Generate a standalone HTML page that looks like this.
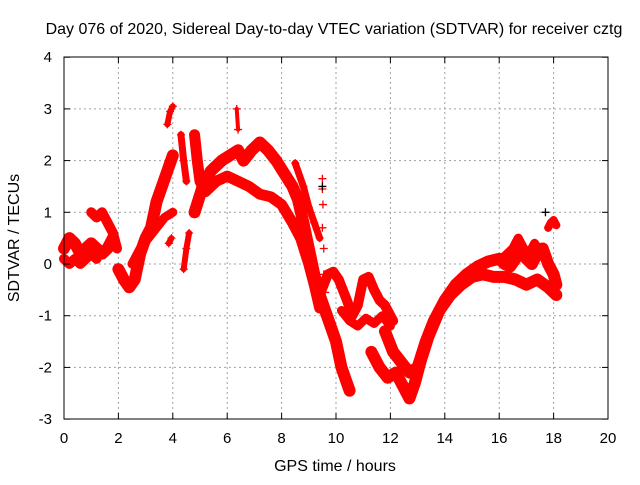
<!DOCTYPE html>
<html><head><meta charset="utf-8"><style>
body{margin:0;background:#fff}
svg text{font-family:"Liberation Sans",sans-serif;font-size:15px;fill:#000}
svg text.big{font-size:16px}
</style></head><body>
<svg id="c" width="640" height="480">
<rect x="0" y="0" width="640" height="480" fill="#fff"/>
<text class="big" x="334" y="34" text-anchor="middle">Day 076 of 2020, Sidereal Day-to-day VTEC variation (SDTVAR) for receiver cztg</text>
<text class="big" x="335" y="471" text-anchor="middle">GPS time / hours</text>
<text class="big" transform="translate(19,238) rotate(-90)" text-anchor="middle">SDTVAR / TECUs</text>
<g id="grid"></g>
<g id="marks"></g>
<rect x="64" y="57" width="544" height="362" fill="none" stroke="#000" stroke-width="1"/>
<g id="axes"></g>
</svg>
<script>
const xTicks=[0,2,4,6,8,10,12,14,16,18,20];
const yTicks=[-3,-2,-1,0,1,2,3,4];
const tA1=[0,0.2,0.4,0.6,0.8,1.0,1.2,1.4,1.6,1.8];
const vA1=[0.3,0.5,0.4,0.2,0.3,0.4,0.3,0.2,0.3,0.5];
const tA2=[0,0.2,0.4,0.6,0.8,1.0,1.2];
const vA2=[0.1,0.0,0.1,0.0,0.1,0.2,0.1];
const tA3=[1.0,1.2,1.4,1.6,1.8,1.95];
const vA3=[1.0,0.9,1.0,0.8,0.6,0.3];
const tB1=[2.0,2.2,2.4,2.6,2.8,3.0,3.2,3.4,3.6,3.8,4.0];
const vB1=[-0.1,-0.3,-0.45,-0.3,0.2,0.5,0.7,1.2,1.5,1.8,2.1];
const tB2=[2.5,2.8,3.1,3.4,3.7,4.0];
const vB2=[0.0,0.3,0.5,0.7,0.9,1.0];
const tC=[3.8,3.9,4.0];
const vC=[2.7,2.95,3.05];
const tD=[3.85,3.95];
const vD=[0.4,0.5];
const tE=[4.3,4.4,4.5];
const vE=[2.5,2.0,1.6];
const tF=[4.4,4.5,4.6];
const vF=[-0.1,0.3,0.6];
const tG=[4.8,4.9,5.0,5.2,5.6,6.0,6.4,6.8,7.2,7.6,8.0,8.4,8.7,9.0,9.2,9.4];
const vG=[2.5,2.0,1.6,1.4,1.6,1.7,1.6,1.5,1.35,1.3,1.15,0.8,0.5,0.0,-0.4,-0.85];
const tH=[4.8,5.1,5.4,5.8,6.1,6.4,6.6,6.9,7.2,7.5,7.8,8.1,8.4,8.6,8.8,9.0,9.2,9.4,9.6,9.8,10.0,10.2,10.5];
const vH=[1.0,1.5,1.8,2.0,2.1,2.2,2.0,2.2,2.35,2.2,2.0,1.75,1.5,1.25,0.8,0.3,-0.2,-0.6,-0.9,-1.2,-1.5,-2.0,-2.45];
const tI=[6.35,6.4];
const vI=[3.0,2.6];
const tJ=[8.5,8.8,9.0,9.2,9.4];
const vJ=[1.95,1.5,1.1,0.8,0.5];
const tL=[9.4,9.7,9.9,10.1,10.4,10.6,10.8,11.0,11.2,11.4,11.6,11.8,12.1];
const vL=[-0.6,-0.2,-0.15,-0.3,-0.7,-1.0,-0.8,-0.3,-0.25,-0.5,-0.7,-0.8,-1.1];
const tM=[10.2,10.5,10.8,11.1,11.4,11.7,12.0];
const vM=[-0.9,-1.1,-1.2,-1.05,-1.15,-1.0,-1.2];
const tN=[11.3,11.6,11.9,12.2,12.5,12.7,12.9,13.1,13.4,13.8,14.2,14.6,15.0,15.4,15.8,16.2,16.6,17.0,17.4,17.8,18.1];
const vN=[-1.7,-2.0,-2.2,-2.1,-2.4,-2.6,-2.3,-1.9,-1.4,-0.9,-0.6,-0.4,-0.25,-0.2,-0.25,-0.25,-0.3,-0.4,-0.3,-0.45,-0.6];
const tO=[11.8,12.1,12.4,12.7,13.0,13.3,13.6,14.0,14.4,14.8,15.2,15.6,16.0,16.2,16.4,16.6,16.8,17.0,17.2,17.4,17.6,17.8,18.0,18.1];
const vO=[-1.3,-1.7,-1.9,-2.1,-2.0,-1.5,-1.1,-0.7,-0.4,-0.2,-0.05,0.05,0.1,0.0,-0.05,0.1,0.3,0.1,0.0,0.2,0.3,0.0,-0.2,-0.4];
const tP=[16.2,16.5,16.7,16.9,17.1,17.3,17.5,17.7];
const vP=[0.15,0.3,0.5,0.3,0.2,0.4,0.25,0.2];
const tQ=[17.8,17.9,18.0,18.1];
const vQ=[0.7,0.8,0.85,0.75];
const tK=[9.5,9.5,9.52,9.5,9.55,9.55,9.6];
const vK=[1.65,1.45,1.15,0.7,0.3,-0.2,-0.55];
const tBlack=[9.5,17.7];
const vBlack=[1.5,1.0];

const NS='http://www.w3.org/2000/svg';
const X=t=>64+t*27.2;
const Y=v=>264-v*51.7;
const grid=document.getElementById('grid'),axes=document.getElementById('axes'),marks=document.getElementById('marks');
function mk(tag,attrs,parent){const e=document.createElementNS(NS,tag);for(const k in attrs)e.setAttribute(k,attrs[k]);parent.appendChild(e);return e;}
xTicks.forEach(t=>{
  if(t>0&&t<20){const g=mk('line',{x1:X(t),x2:X(t),y1:57,y2:419,stroke:'#a0a0a0','stroke-dasharray':'2,3'},grid);
  
  }
  mk('line',{x1:X(t),x2:X(t),y1:419,y2:413,stroke:'#000'},axes);
  mk('line',{x1:X(t),x2:X(t),y1:57,y2:63,stroke:'#000'},axes);
  const l=mk('text',{x:X(t),y:443,'text-anchor':'middle'},axes);l.textContent=t;
  
  
});
yTicks.forEach(v=>{
  if(v>-3&&v<4){const g=mk('line',{x1:64,x2:608,y1:Y(v),y2:Y(v),stroke:'#a0a0a0','stroke-dasharray':'2,3'},grid);
  
  }
  mk('line',{x1:64,x2:70,y1:Y(v),y2:Y(v),stroke:'#000'},axes);
  mk('line',{x1:608,x2:602,y1:Y(v),y2:Y(v),stroke:'#000'},axes);
  const l=mk('text',{x:52,y:Y(v)+5,'text-anchor':'end'},axes);l.textContent=v;
  
  
});
const tracks=[[tA1,vA1,12],[tA2,vA2,10],[tA3,vA3,10],[tB1,vB1,12],[tB2,vB2,9],[tC,vC,6],[tD,vD,6],[tE,vE,7],[tF,vF,6],[tG,vG,11],[tH,vH,12],[tI,vI,4],[tJ,vJ,7],[tL,vL,10],[tM,vM,9],[tN,vN,12],[tO,vO,12],[tP,vP,9],[tQ,vQ,8]];
function plus(x,y,col){const p=mk('path',{d:`M${x-4},${y}h8M${x},${y-4}v8`,stroke:col,'stroke-width':1.3},marks);
  
  }
tracks.forEach(([ts,vs,w])=>{
  const pts=ts.map((t,i)=>X(t)+','+Y(vs[i])).join(' ');
  const pl=mk('polyline',{points:pts,fill:'none',stroke:'#f00','stroke-width':w,'stroke-linejoin':'round','stroke-linecap':'round'},marks);
  
  
  ts.forEach((t,i)=>plus(X(t),Y(vs[i]),'#f00'));
});
tK.forEach((t,i)=>plus(X(t),Y(vK[i]),'#f00'));
tBlack.forEach((t,i)=>plus(X(t),Y(vBlack[i]),'#000'));
</script>
</body></html>
